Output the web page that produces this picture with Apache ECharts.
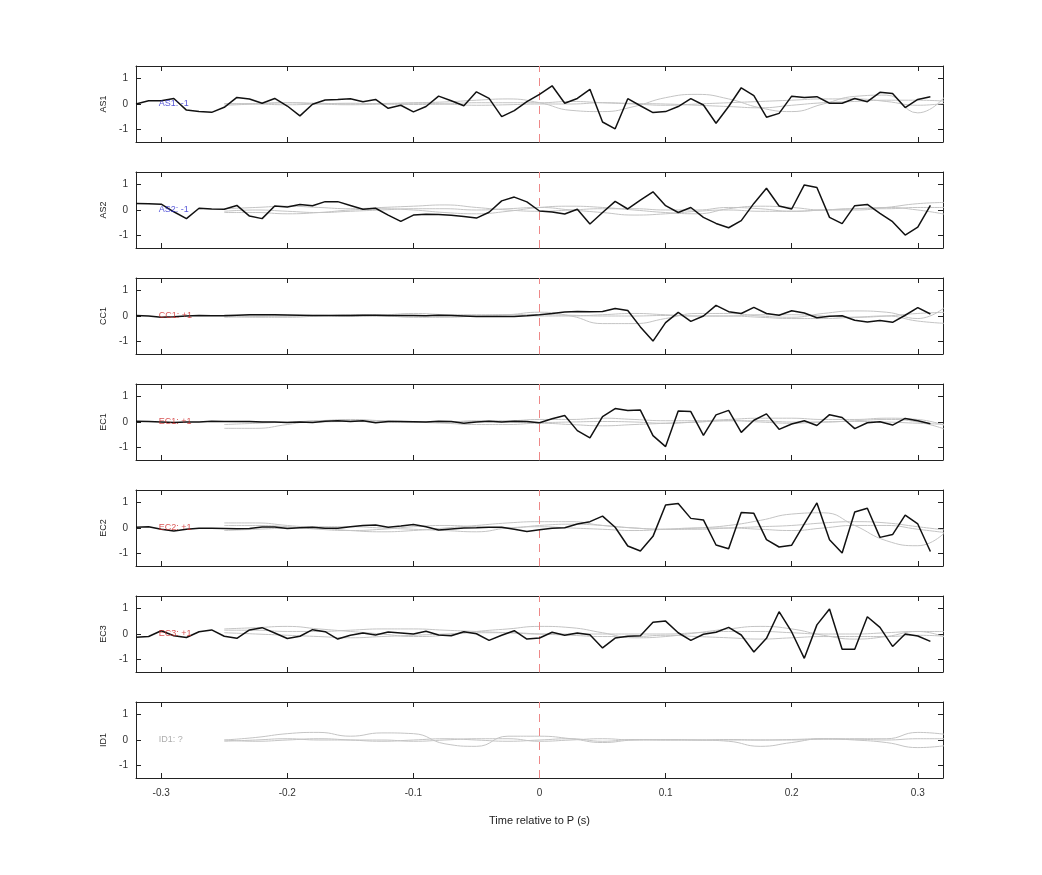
<!DOCTYPE html>
<html><head><meta charset="utf-8">
<script src="https://cdn.jsdelivr.net/npm/echarts@6/dist/echarts.min.js"></script>
<style>html,body{margin:0;padding:0;background:#fff}#c{width:1042px;height:875px}</style>
</head><body><div id="c"></div>
<script>
const stations = ['AS1','AS2','CC1','EC1','EC2','EC3','ID1'];
const polarity = ['AS1: -1','AS2: -1','CC1: +1','EC1: +1','EC2: +1','EC3: +1','ID1: ?'];
const labelColors = ['#2a2ad0','#2a2ad0','#d02a2a','#d02a2a','#d02a2a','#d02a2a','#999999'];
const xTicks = [-0.3,-0.2,-0.1,0,0.1,0.2,0.3];
const yTicks = [-1,0,1];
const blackStart = -0.32, blackStep = 0.01;
const grayStart = -0.25, grayStep = 0.025;

const AS1 = [0.0,0.13,0.13,0.22,-0.24,-0.30,-0.33,-0.13,0.26,0.2,0.03,0.22,-0.08,-0.47,-0.01,0.16,0.18,0.21,0.09,0.18,-0.17,-0.05,-0.31,-0.1,0.31,0.13,-0.07,0.48,0.22,-0.5,-0.26,0.09,0.38,
 0.72,0.03,0.22,0.58,-0.71,-0.98,0.21,-0.07,-0.34,-0.3,-0.1,0.21,-0.04,-0.76,-0.1,0.64,0.33,-0.52,-0.37,0.31,0.26,0.29,0.03,0.03,0.22,0.09,0.46,0.41,-0.14,0.18,0.29];
const AS2 = [0.26,0.25,0.23,-0.07,-0.34,0.07,0.04,0.03,0.18,-0.24,-0.34,0.16,0.12,0.22,0.17,0.33,0.33,0.18,0.03,0.07,-0.2,-0.45,-0.2,-0.17,-0.18,-0.21,-0.26,-0.32,-0.09,0.36,0.51,0.32,-0.04,
 -0.08,-0.16,0.03,-0.55,-0.1,0.34,0.04,0.39,0.72,0.17,-0.1,0.1,-0.29,-0.53,-0.7,-0.42,0.26,0.86,0.16,0.04,0.99,0.89,-0.29,-0.54,0.17,0.22,-0.13,-0.46,-0.99,-0.68,0.18];
const CC1 = [0.02,0.0,-0.05,-0.03,0,0.02,0.01,0.01,0.03,0.05,0.05,0.05,0.04,0.03,0.02,0.02,0.02,0.02,0.03,0.03,0.02,0.02,0.02,0.01,0.03,0.02,0.0,-0.02,-0.02,-0.02,-0.02,0.01,0.05,
 0.1,0.16,0.18,0.17,0.18,0.3,0.22,-0.43,-0.99,-0.26,0.14,-0.21,0,0.42,0.17,0.1,0.34,0.1,0.03,0.21,0.12,-0.07,-0.01,0.01,-0.17,-0.24,-0.18,-0.25,0.03,0.33,0.08];
const EC1 = [0.03,0.02,0,-0.02,0,0,0.03,0.02,0.02,0.02,0,0,-0.02,0,-0.02,0.03,0.05,0.02,0.05,-0.03,0.02,0.02,0.01,0,0.03,0.02,-0.05,0,0.03,0,0.03,0.02,-0.03,
 0.13,0.26,-0.34,-0.63,0.21,0.53,0.45,0.47,-0.54,-0.97,0.43,0.41,-0.53,0.28,0.46,-0.41,0.07,0.32,-0.29,-0.08,0.05,-0.14,0.29,0.18,-0.26,-0.03,0.01,-0.12,0.14,0.05,-0.07];
const EC2 = [0.03,0.05,-0.05,-0.12,-0.05,-0.01,-0.01,-0.02,-0.03,-0.02,0.04,0.04,-0.02,0.01,0.03,-0.01,-0.01,0.05,0.1,0.12,0.03,0.08,0.14,0.05,-0.08,-0.04,0,0.01,0.03,0.03,-0.05,-0.14,-0.07,
 -0.01,0.01,0.16,0.25,0.47,0.03,-0.71,-0.91,-0.33,0.91,0.97,0.38,0.32,-0.67,-0.82,0.61,0.58,-0.46,-0.75,-0.68,0.16,0.99,-0.46,-0.99,0.63,0.78,-0.37,-0.26,0.51,0.16,-0.93];
const EC3 = [-0.13,-0.10,0.13,-0.07,-0.14,0.09,0.16,-0.09,-0.17,0.16,0.25,0.04,-0.18,-0.09,0.17,0.09,-0.2,-0.05,0.04,-0.04,0.08,0.04,0,0.11,-0.04,-0.07,0.09,0.01,-0.25,-0.05,0.13,-0.2,-0.16,
 0.07,-0.05,0.04,-0.03,-0.55,-0.16,-0.09,-0.07,0.46,0.51,0.05,-0.25,-0.01,0.07,0.26,-0.04,-0.71,-0.17,0.88,0.08,-0.96,0.36,0.99,-0.6,-0.6,0.68,0.26,-0.49,0,-0.08,-0.29];
const blackSeries = [AS1,AS2,CC1,EC1,EC2,EC3,null];

const grayAS1 = [
 [0,0.02,0.05,0.03,0,0.02,0.05,0.08,0.15,0.2,0.05,-0.25,-0.3,-0.1,0.25,0.38,0.2,-0.15,-0.3,0.0,0.3,0.35,-0.35,0.5],
 [0.02,0,-0.03,0,0.03,0,-0.02,0,0.05,0.05,0.05,0.1,0.05,0,-0.05,0,0.05,0.1,0.15,0.2,0.2,0.1,-0.05,0.05],
 [-0.05,0,0.05,0,-0.03,0,0.03,0,-0.05,-0.03,0,0,0.05,0.02,0,-0.05,-0.1,-0.15,-0.05,0.05,0.1,0.15,0.15,0.1]];
const grayAS2 = [
 [-0.1,-0.1,-0.15,-0.1,0,0.05,0.0,-0.1,-0.15,-0.05,0.1,0.15,0.1,0,-0.1,-0.15,0.05,0.15,0.1,0,0,0.1,0.25,0.3],
 [0.05,0.1,0.15,0.1,0.05,0.1,0.15,0.2,0.1,0,-0.05,0,0.05,0.05,0,0,0.1,0.05,-0.05,0,0.05,0.05,0.1,0.1],
 [-0.05,0,-0.05,-0.1,-0.05,0,0.05,0.05,0,0.05,0.1,0,-0.1,-0.2,-0.15,-0.05,0,-0.05,-0.05,0,0.05,0.1,0,-0.2]];
const grayCC1 = [
 [0,-0.05,-0.05,0,0.05,0.05,0.1,0.05,0,0.05,0.15,0,-0.3,-0.3,-0.1,0.1,0.1,0,-0.05,0.1,0.2,0.15,-0.1,0.5],
 [0.05,0,0,0.03,0,0,0,0.05,0.05,0.05,0.05,0.03,0,0,0.02,0,0,0.05,0.05,0,-0.05,0,0.1,0.15],
 [-0.05,-0.02,0,0,-0.02,0,-0.05,-0.05,0,0.05,0,0,0.05,0.1,0.05,0,0,-0.05,-0.1,-0.1,-0.05,0,-0.2,-0.3]];
const grayEC1 = [
 [-0.25,-0.25,-0.1,0.05,0.05,0.05,0,-0.05,-0.1,-0.1,-0.05,-0.1,-0.15,-0.1,-0.05,0,0.05,0.05,0,0,0.05,0.1,0,-0.35],
 [-0.1,-0.05,0,0.05,0.1,0.05,0,0,0.05,0.05,0.1,0.1,0.15,0.1,0.05,0.05,0.1,0.15,0.15,0.1,0.1,0.15,0.1,-0.2],
 [0.02,0,-0.02,0,0.02,0,-0.02,0,0.02,0,-0.02,0,0.02,0,-0.05,0,0.05,0,-0.05,0,0.02,0,-0.05,-0.1]];
const grayEC2 = [
 [0.2,0.2,0.1,0,-0.1,-0.15,-0.1,0,0.1,0.2,0.25,0.25,0.1,0,-0.05,0,0.1,0.3,0.55,0.6,0.1,-0.5,-0.7,0.0],
 [0.1,0.1,0.05,-0.05,-0.1,-0.05,0.05,0.1,0.05,0,0.1,0.15,0.1,0,-0.05,-0.05,0,0.05,0.1,0.2,0.25,0.2,0.05,-0.1],
 [-0.1,-0.05,0,0.05,0.05,0,-0.05,-0.1,-0.15,0,0.05,0.0,-0.05,-0.1,-0.05,0,0,-0.05,-0.1,0,0.1,0.1,-0.05,-0.2]];
const grayEC3 = [
 [0.2,0.25,0.3,0.2,0.1,0,-0.1,-0.05,0.1,0.2,0.3,0.25,0.05,-0.15,-0.1,0.05,0.2,0.3,0.2,-0.05,-0.2,-0.1,0.1,-0.2],
 [0.15,0.15,0.1,0.1,0.15,0.2,0.2,0.15,0.1,0.05,0,0,0,0,0,0.05,0.1,0.1,0.05,0,0,0.05,0.1,0.1],
 [0.05,0,-0.05,-0.1,-0.15,-0.1,-0.05,0,0.05,0.05,0,-0.05,-0.1,-0.1,-0.05,-0.1,-0.15,-0.2,-0.15,-0.1,-0.1,-0.1,-0.05,-0.1]];
const grayID1 = [
 [0,0.1,0.25,0.3,0.15,0.28,0.25,-0.15,-0.25,0.15,0.15,0.05,-0.1,0,0.02,0,-0.05,-0.25,-0.1,0.05,0.05,0.05,0.3,0.2],
 [0,-0.05,0,0.05,0,-0.05,0,0.05,0,-0.05,0,0.05,-0.05,0.02,0,0,0,0,0.02,0.05,0,-0.1,-0.3,-0.2],
 [-0.05,0,0.05,0,0,0,-0.05,0,0.05,0.05,-0.05,0,0.05,0,0,0,0.02,0,0,0.03,0.03,0,0.05,0.05]];
const graySeries = [grayAS1,grayAS2,grayCC1,grayEC1,grayEC2,grayEC3,grayID1];

const chart = echarts.init(document.getElementById('c'));
const grids=[], xAxes=[], yAxes=[], series=[];
const axisLine = {show:true, onZero:false, lineStyle:{color:'#222', width:1}};
const tickStyle = {lineStyle:{color:'#222'}};
stations.forEach((st,i)=>{
  const last = i===stations.length-1;
  grids.push({left:136, right:99, top:66+106*i, height:76});
  xAxes.push({type:'value', gridIndex:i, min:-0.32, max:0.32, position:'bottom',
    axisLine, splitLine:{show:false},
    axisTick:{show:true, inside:true, length:5, customValues:xTicks, ...tickStyle},
    axisLabel:{show:last, customValues:xTicks, color:'#333', fontSize:10, margin:10, fontFamily:'Liberation Sans'},
    name: last ? 'Time relative to P (s)' : '', nameLocation:'middle', nameGap:37,
    nameTextStyle:{color:'#222', fontSize:11, fontFamily:'Liberation Sans'}});
  xAxes.push({type:'value', gridIndex:i, min:-0.32, max:0.32, position:'top',
    axisLine, splitLine:{show:false},
    axisTick:{show:true, inside:true, length:5, customValues:xTicks, ...tickStyle},
    axisLabel:{show:false}});
  yAxes.push({type:'value', gridIndex:i, min:-1.5, max:1.5, position:'left',
    axisLine, splitLine:{show:false},
    axisTick:{show:true, inside:true, length:5, customValues:yTicks, ...tickStyle},
    axisLabel:{customValues:yTicks, color:'#333', fontSize:10, margin:8, fontFamily:'Liberation Sans'},
    name:st, nameLocation:'middle', nameGap:28, nameRotate:90,
    nameTextStyle:{color:'#222', fontSize:9, fontFamily:'Liberation Sans'}});
  yAxes.push({type:'value', gridIndex:i, min:-1.5, max:1.5, position:'right',
    axisLine, splitLine:{show:false},
    axisTick:{show:true, inside:true, length:5, customValues:yTicks, ...tickStyle},
    axisLabel:{show:false}});
  const xi = 2*i, yi = 2*i;
  graySeries[i].forEach((g,k)=>{
    const s = {type:'line', xAxisIndex:xi, yAxisIndex:yi, smooth:0.5, symbol:'none', silent:true,
      lineStyle:{color:'#c4c4c4', width:1}, data:g.map((v,j)=>[grayStart+j*grayStep, v])};
    if(k===0){
      s.markLine = {silent:true, symbol:'none', label:{show:false},
        lineStyle:{color:'#e88', type:[8,6], width:1}, data:[{xAxis:0}]};
    }
    series.push(s);
  });
  if(blackSeries[i]){
    series.push({type:'line', xAxisIndex:xi, yAxisIndex:yi, symbol:'none', silent:true, z:5,
      lineStyle:{color:'#111', width:1.5},
      data:blackSeries[i].map((v,j)=>[+(blackStart+j*blackStep).toFixed(2), v])});
  }
  series.push({type:'scatter', xAxisIndex:xi, yAxisIndex:yi, symbolSize:0, silent:true, z:6,
    data:[[-0.302,0]],
    label:{show:true, position:'right', distance:0, formatter:polarity[i], color:labelColors[i], fontSize:9, fontFamily:'Liberation Sans'}});
});
chart.setOption({animation:false, grid:grids, xAxis:xAxes, yAxis:yAxes, series});
</script></body></html>
